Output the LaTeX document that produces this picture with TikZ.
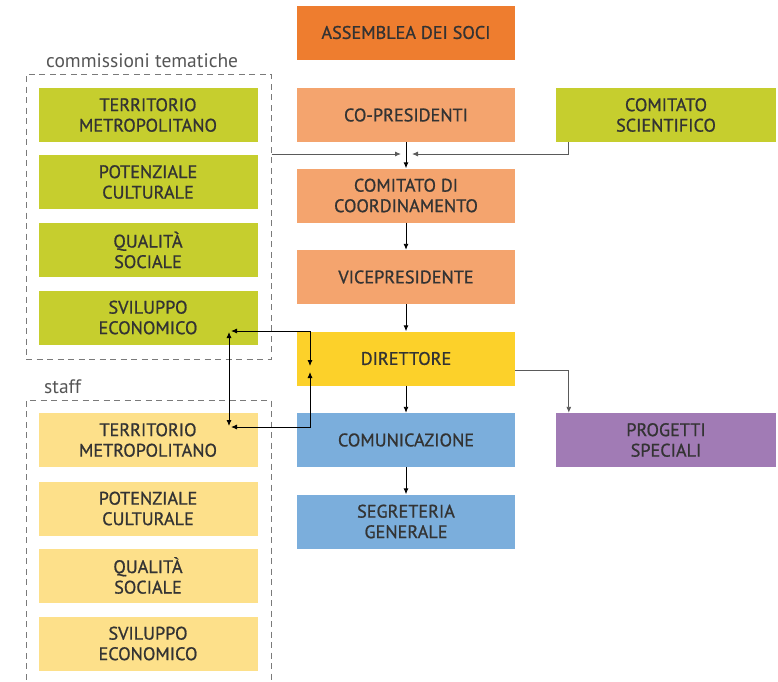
\documentclass[tikz,border=0pt]{standalone}
\usepackage{fontspec}
\setmainfont{PT Sans}
\newfontfamily\boxfont{PT Sans}[FakeBold=0.9]
\usetikzlibrary{arrows.meta}
\definecolor{cAss}{HTML}{EE7D2F}
\definecolor{cOra}{HTML}{F4A46E}
\definecolor{cDir}{HTML}{FCD12A}
\definecolor{cBlu}{HTML}{7BAEDC}
\definecolor{cGrn}{HTML}{C6CE2E}
\definecolor{cYel}{HTML}{FDE08A}
\definecolor{cPur}{HTML}{A17BB5}
\definecolor{cTxt}{HTML}{333333}
\definecolor{cLbl}{HTML}{555555}
\definecolor{cDash}{HTML}{7A7A7A}
\definecolor{cLine}{HTML}{5A5A5A}
\tikzset{
  box/.style={rectangle, inner sep=0pt, align=center, text=cTxt,
    font=\boxfont\fontsize{18.2}{20.5}\selectfont, minimum height=54pt},
  midbox/.style={box, minimum width=218pt},
  sidebox/.style={box, minimum width=219pt},
  rightbox/.style={box, minimum width=220pt},
  grp/.style={draw=cDash, line width=1pt, dash pattern=on 6pt off 4.5pt},
  lbl/.style={text=cLbl, inner sep=0pt, font=\fontsize{19.5}{22}\selectfont},
  arr/.style={-{Latex[length=6pt,width=5pt]}, line width=0.9pt, black},
  garr/.style={-{Latex[length=6pt,width=5pt]}, line width=0.9pt, cLine},
  darr/.style={{Latex[length=6pt,width=5pt]}-{Latex[length=6pt,width=5pt]}, line width=0.9pt, black},
}
\begin{document}
\begin{tikzpicture}[x=1pt,y=-1pt]
\useasboundingbox (0,0) rectangle (778,681);
% central column
\node[midbox, fill=cAss] (a1) at (406,32.5) {ASSEMBLEA DEI SOCI};
\node[midbox, fill=cOra] (a2) at (406,115) {CO-PRESIDENTI};
\node[midbox, fill=cOra] (a3) at (406,195.5) {COMITATO DI\\COORDINAMENTO};
\node[midbox, fill=cOra] (a4) at (406,277) {VICEPRESIDENTE};
\node[midbox, fill=cDir] (a5) at (406,358.5) {DIRETTORE};
\node[midbox, fill=cBlu] (a6) at (406,440) {COMUNICAZIONE};
\node[midbox, fill=cBlu] (a7) at (406,521.5) {SEGRETERIA\\GENERALE};
% right column
\node[rightbox, fill=cGrn] (cs) at (666,115) {COMITATO\\SCIENTIFICO};
\node[rightbox, fill=cPur] (ps) at (666,440) {PROGETTI\\SPECIALI};
% left groups
\node[sidebox, fill=cGrn] (g1) at (148,115) {TERRITORIO\\METROPOLITANO};
\node[sidebox, fill=cGrn] (g2) at (148,182) {POTENZIALE\\CULTURALE};
\node[sidebox, fill=cGrn] (g3) at (148,250) {QUALITÀ\\SOCIALE};
\node[sidebox, fill=cGrn] (g4) at (148,317.5) {SVILUPPO\\ECONOMICO};
\node[sidebox, fill=cYel] (y1) at (148,440) {TERRITORIO\\METROPOLITANO};
\node[sidebox, fill=cYel] (y2) at (148,508.5) {POTENZIALE\\CULTURALE};
\node[sidebox, fill=cYel] (y3) at (148,575.5) {QUALITÀ\\SOCIALE};
\node[sidebox, fill=cYel] (y4) at (148,643.5) {SVILUPPO\\ECONOMICO};
% dashed group frames
\node[grp, rectangle, inner sep=0pt, minimum width=245pt, minimum height=285pt] (d1) at (148.5,216.5) {};
\draw[grp] (26,690) |- (271,400) -- (271,690);
\node[lbl, anchor=base west] (l1) at (46,67) {commissioni tematiche};
\node[lbl, anchor=base west] (l2) at (44,393) {staff};
% connectors
\coordinate (jl) at (401,154);
\coordinate (jr) at (412,154);
\draw[garr] (d1.east |- jl) -- (jl);
\draw[garr] ([xshift=13pt]cs.south west) |- (jr);
\draw[arr] (a2) -- (a3);
\draw[arr] (a3) -- (a4);
\draw[arr] (a4) -- (a5);
\draw[arr] (a5) -- (a6);
\draw[arr] (a6) -- (a7);
\draw[garr] ([yshift=-12pt]a5.east) -| ([xshift=13pt]ps.north west);
% loop between commissions, staff and direttore
\coordinate (gt) at (231,331);
\coordinate (yt) at (231,427);
\coordinate (dt) at (310,366);
\coordinate (db) at (310,372);
\coordinate (vt) at (229,332);
\coordinate (vb) at (229,426);
\draw[darr] (gt) -- (dt |- gt) -- (dt);
\draw[darr] (yt) -- (db |- yt) -- (db);
\draw[darr] (vt) -- (vb);
\end{tikzpicture}
\end{document}
